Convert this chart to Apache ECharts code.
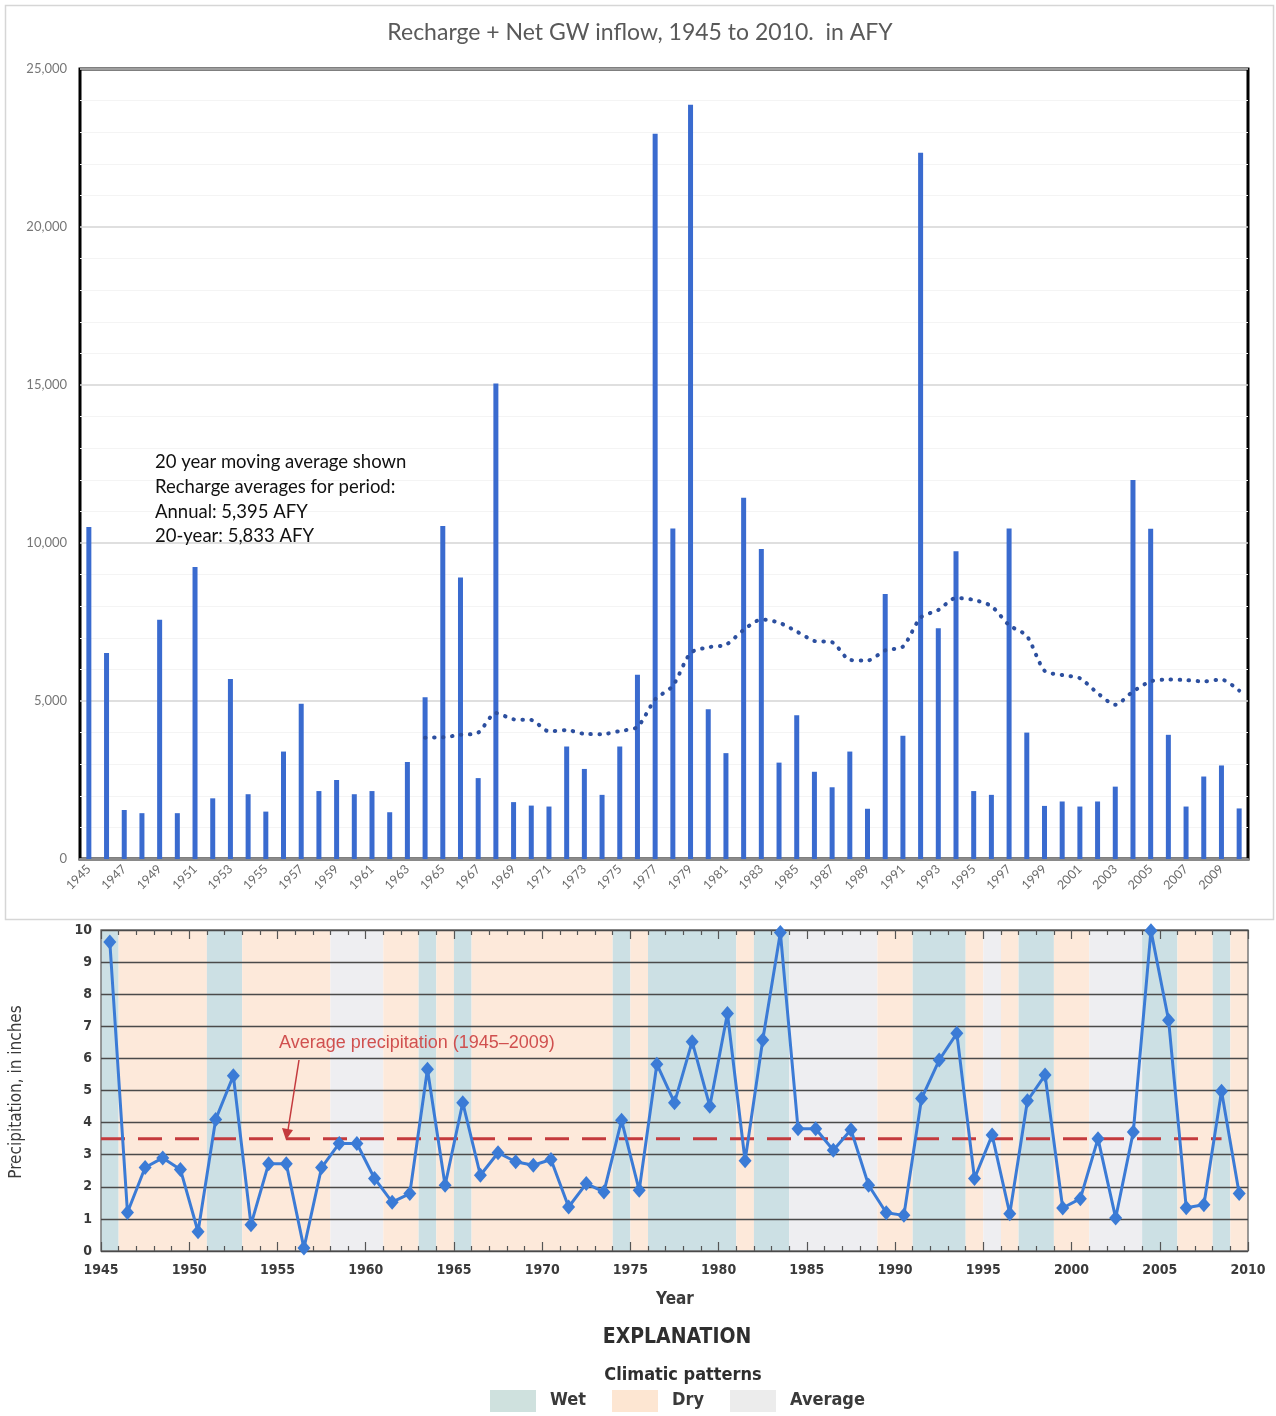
<!DOCTYPE html>
<html>
<head>
<meta charset="utf-8">
<script src="https://cdn.jsdelivr.net/npm/echarts@6.0.0/dist/echarts.min.js"></script>
<style>
  html, body { margin: 0; padding: 0; background: #ffffff; }
  #chart { width: 1276px; height: 1416px; }
</style>
</head>
<body>
<div id="chart"></div>
<script>
// ---- Recharge + net groundwater inflow (acre-feet per year) ----
const years = [
  '1945','1946','1947','1948','1949','1950','1951','1952','1953','1954',
  '1955','1956','1957','1958','1959','1960','1961','1962','1963','1964',
  '1965','1966','1967','1968','1969','1970','1971','1972','1973','1974',
  '1975','1976','1977','1978','1979','1980','1981','1982','1983','1984',
  '1985','1986','1987','1988','1989','1990','1991','1992','1993','1994',
  '1995','1996','1997','1998','1999','2000','2001','2002','2003','2004',
  '2005','2006','2007','2008','2009','2010'
];

const recharge = [
  10510, 6520, 1550, 1450, 7570, 1450, 9240, 1920, 5700, 2050,
  1500, 3400, 4910, 2150, 2500, 2050, 2150, 1480, 3070, 5120,
  10540, 8910, 2560, 15050, 1800, 1690, 1660, 3560, 2850, 2030,
  3560, 5830, 22950, 10460, 23870, 4740, 3350, 11430, 9810, 3050,
  4550, 2760, 2270, 3400, 1590, 8390, 3900, 22350, 7300, 9740,
  2150, 2030, 10460, 4000, 1680, 1820, 1660, 1820, 2290, 11990,
  10450, 3930, 1660, 2610, 2960, 1600
];

// 20-year moving average (first value plotted at 1964)
const movingAvg20 = [
  null, null, null, null, null, null, null, null, null, null,
  null, null, null, null, null, null, null, null, null, 3840,
  3850, 3930, 4000, 4620, 4420, 4400, 4040, 4080, 3960, 3950,
  4050, 4180, 5050, 5480, 6520, 6700, 6780, 7250, 7580, 7480,
  7200, 6900, 6860, 6300, 6280, 6600, 6720, 7640, 7880, 8260,
  8200, 8000, 7400, 7060, 5960, 5820, 5720, 5250, 4880, 5300,
  5620, 5680, 5660, 5620, 5680, 5330
];

const rechargeNotes = [
  '20 year moving average shown',
  'Recharge averages for period:',
  'Annual: 5,395 AFY',
  '20-year: 5,833 AFY'
];

// ---- Annual precipitation, in inches ----
const precipYears = [
  1945, 1946, 1947, 1948, 1949, 1950, 1951, 1952, 1953, 1954,
  1955, 1956, 1957, 1958, 1959, 1960, 1961, 1962, 1963, 1964,
  1965, 1966, 1967, 1968, 1969, 1970, 1971, 1972, 1973, 1974,
  1975, 1976, 1977, 1978, 1979, 1980, 1981, 1982, 1983, 1984,
  1985, 1986, 1987, 1988, 1989, 1990, 1991, 1992, 1993, 1994,
  1995, 1996, 1997, 1998, 1999, 2000, 2001, 2002, 2003, 2004,
  2005, 2006, 2007, 2008, 2009
];

const precipitation = [
  9.63, 1.20, 2.60, 2.90, 2.54, 0.60, 4.10, 5.46, 0.82, 2.72,
  2.72, 0.09, 2.60, 3.35, 3.35, 2.26, 1.52, 1.79, 5.66, 2.05,
  4.62, 2.36, 3.06, 2.78, 2.67, 2.85, 1.37, 2.10, 1.84, 4.07,
  1.89, 5.82, 4.62, 6.52, 4.51, 7.40, 2.81, 6.57, 9.92, 3.81,
  3.81, 3.14, 3.78, 2.05, 1.19, 1.11, 4.75, 5.95, 6.78, 2.26,
  3.61, 1.16, 4.68, 5.48, 1.34, 1.63, 3.50, 1.03, 3.71, 9.98,
  7.19, 1.35, 1.44, 4.98, 1.79
];

const avgPrecipitation = 3.5;          // 1945-2009 mean
const avgLineSpan = [1945, 2008.5];

// Climatic pattern periods: [start, end, pattern]
const climateBands = [
  [1945, 1946, 'Wet'], [1946, 1951, 'Dry'], [1951, 1953, 'Wet'],
  [1953, 1958, 'Dry'], [1958, 1961, 'Average'], [1961, 1963, 'Dry'],
  [1963, 1964, 'Wet'], [1964, 1965, 'Dry'], [1965, 1966, 'Wet'],
  [1966, 1974, 'Dry'], [1974, 1975, 'Wet'], [1975, 1976, 'Dry'],
  [1976, 1981, 'Wet'], [1981, 1982, 'Dry'], [1982, 1984, 'Wet'],
  [1984, 1989, 'Average'], [1989, 1991, 'Dry'], [1991, 1994, 'Wet'],
  [1994, 1995, 'Dry'], [1995, 1996, 'Average'], [1996, 1997, 'Dry'],
  [1997, 1999, 'Wet'], [1999, 2001, 'Dry'], [2001, 2004, 'Average'],
  [2004, 2006, 'Wet'], [2006, 2008, 'Dry'], [2008, 2009, 'Wet'],
  [2009, 2010, 'Dry']
];

const patternNames = ['Wet', 'Dry', 'Average'];
const bandColors = { Wet: '#cce0e4', Dry: '#fde9da', Average: '#eeeef1' };
const swatchColors = { Wet: '#cfe1de', Dry: '#fde6d2', Average: '#ececec' };

// ---- Styles ----
const sans = 'Lato, "Open Sans", "Liberation Sans", sans-serif';
const narrow = '"Liberation Sans Narrow", "DejaVu Sans Condensed", "Liberation Sans", sans-serif';

const chart = echarts.init(document.getElementById('chart'), null, { renderer: 'canvas' });

const precipData = precipYears.map((y, i) => [y + 0.5, precipitation[i]]);

// legend row for climatic patterns
const legendX = { Wet: 490, Dry: 612, Average: 730 };
const legendGraphics = [];
patternNames.forEach(name => {
  legendGraphics.push({
    type: 'rect', left: legendX[name], top: 1390, z: 100,
    shape: { width: 46, height: 22 },
    style: { fill: swatchColors[name] }, silent: true
  });
  legendGraphics.push({
    type: 'text', left: legendX[name] + 60, top: 1391, z: 100,
    style: { text: name, font: 'bold 18px ' + narrow, fill: '#3a3a3a' }, silent: true
  });
});

const option = {
  animation: false,
  backgroundColor: '#ffffff',
  grid: [
    {
      left: 80, top: 69, width: 1168, height: 790,
      show: true, borderColor: '#000000', borderWidth: 3,
      backgroundColor: 'transparent', containLabel: false, outerBoundsMode: 'none'
    },
    {
      left: 101, top: 930, width: 1147, height: 321,
      show: true, borderColor: '#7a7a7a', borderWidth: 1.5,
      backgroundColor: 'transparent', containLabel: false, outerBoundsMode: 'none'
    }
  ],
  xAxis: [
    {
      gridIndex: 0, type: 'category', data: years, boundaryGap: true,
      axisLine: { show: true, lineStyle: { color: '#8a8a8a', width: 3 } },
      axisTick: { show: false },
      axisLabel: {
        interval: 1, rotate: 45, margin: 8,
        fontFamily: sans, fontSize: 12.5, color: '#6a6a6a'
      },
      splitLine: { show: false }
    },
    {
      gridIndex: 1, type: 'value', min: 1945, max: 2010, interval: 5,
      position: 'bottom',
      axisLine: { show: false },
      axisTick: { show: true, inside: true, length: 9, lineStyle: { color: '#555', width: 1.2 } },
      minorTick: { show: true, splitNumber: 5, length: 5, lineStyle: { color: '#555', width: 1.2 } },
      axisLabel: {
        margin: 12, fontFamily: narrow, fontWeight: 'bold', fontSize: 14, color: '#3a3a3a',
        formatter: v => String(v)
      },
      splitLine: { show: false }
    },
    {
      gridIndex: 1, type: 'value', min: 1945, max: 2010, interval: 5,
      position: 'top',
      axisLine: { show: false },
      axisTick: { show: true, inside: true, length: 9, lineStyle: { color: '#555', width: 1.2 } },
      minorTick: { show: true, splitNumber: 5, length: 5, lineStyle: { color: '#555', width: 1.2 } },
      axisLabel: { show: false },
      splitLine: { show: false }
    }
  ],
  yAxis: [
    {
      gridIndex: 0, type: 'value', min: 0, max: 25000, interval: 5000,
      axisLine: { show: false }, axisTick: { show: false },
      axisLabel: {
        margin: 13, fontFamily: sans, fontSize: 13, color: '#777777',
        formatter: v => v.toLocaleString('en-US')
      },
      splitLine: { show: true, lineStyle: { color: '#d4d4d4', width: 1.5 } },
      minorTick: { show: false, splitNumber: 5 },
      minorSplitLine: { show: true, lineStyle: { color: '#f4f4f4', width: 1 } }
    },
    {
      gridIndex: 1, type: 'value', min: 0, max: 10, interval: 1,
      axisLine: { show: false }, axisTick: { show: false },
      axisLabel: {
        margin: 9, fontFamily: narrow, fontWeight: 'bold', fontSize: 14, color: '#3a3a3a'
      },
      splitLine: { show: true, lineStyle: { color: '#4a4a4a', width: 1.4 } }
    }
  ],
  series: [
    {
      name: 'Recharge + Net GW inflow', type: 'bar',
      xAxisIndex: 0, yAxisIndex: 0,
      data: recharge, barWidth: 5,
      itemStyle: { color: '#3a6bcf' }, z: 2
    },
    {
      name: '20 year moving average', type: 'line',
      xAxisIndex: 0, yAxisIndex: 0,
      data: movingAvg20, symbol: 'none', smooth: 0.25,
      lineStyle: { color: '#2c4f9f', width: 4, type: [0.5, 8.5], cap: 'round' },
      z: 3
    },
    {
      name: 'Climatic patterns', type: 'custom',
      xAxisIndex: 1, yAxisIndex: 1,
      data: climateBands.map(b => [b[0], b[1]]),
      encode: { x: [0, 1] },
      z: -1, silent: true,
      renderItem: (params, api) => {
        const a = api.coord([api.value(0), 10]);
        const b = api.coord([api.value(1), 0]);
        return {
          type: 'rect',
          shape: { x: a[0], y: a[1], width: b[0] - a[0], height: b[1] - a[1] },
          style: { fill: bandColors[climateBands[params.dataIndex][2]] }
        };
      }
    },
    {
      name: 'Average precipitation', type: 'line',
      xAxisIndex: 1, yAxisIndex: 1,
      data: avgLineSpan.map(x => [x, avgPrecipitation]),
      symbol: 'none',
      lineStyle: { color: '#c43a3d', width: 3, type: [24, 13] },
      z: 2
    },
    {
      name: 'Precipitation', type: 'line',
      xAxisIndex: 1, yAxisIndex: 1,
      data: precipData,
      symbol: 'diamond', symbolSize: [13, 15],
      lineStyle: { color: '#3b7bd6', width: 3 },
      itemStyle: { color: '#3b7bd6' },
      z: 4
    }
  ],
  graphic: [
    // frame around the recharge chart
    {
      type: 'rect', left: 3, top: 3,
      shape: { width: 1268, height: 914 },
      style: { fill: 'none', stroke: '#d6d6d6', lineWidth: 1.5 }, silent: true, z: -10
    },
    {
      type: 'text', x: 640, y: 33, z: 100,
      style: {
        text: 'Recharge + Net GW inflow, 1945 to 2010.  in AFY',
        font: '23px ' + sans, fill: '#595959', align: 'center', verticalAlign: 'middle'
      }, silent: true
    },
    {
      type: 'text', left: 155, top: 450, z: 100,
      style: {
        text: rechargeNotes.join('\n'),
        font: '18.5px ' + sans, fill: '#111111', lineHeight: 24.7
      }, silent: true
    },
    // precipitation chart captions
    {
      type: 'text', x: 17, y: 1092, rotation: Math.PI / 2, z: 100,
      style: {
        text: 'Precipitation, in inches', font: '17px ' + narrow, fill: '#3a3a3a',
        align: 'center', verticalAlign: 'middle'
      }, silent: true
    },
    {
      type: 'text', x: 279, y: 1043, z: 100,
      style: {
        text: 'Average precipitation (1945\u20132009)', font: '18px "Liberation Sans", sans-serif',
        fill: '#d0504f', align: 'left', verticalAlign: 'middle'
      }, silent: true
    },
    {
      type: 'line', z: 100,
      shape: { x1: 299, y1: 1060, x2: 288, y2: 1130 },
      style: { stroke: '#c43a3d', lineWidth: 1.5 }, silent: true
    },
    {
      type: 'polygon', z: 100,
      shape: { points: [[282, 1128], [293, 1130], [286, 1140]] },
      style: { fill: '#c43a3d' }, silent: true
    },
    {
      type: 'text', x: 675, y: 1300, z: 100,
      style: { text: 'Year', font: 'bold 17px ' + narrow, fill: '#3a3a3a', align: 'center', verticalAlign: 'middle' },
      silent: true
    },
    {
      type: 'text', x: 677, y: 1338, z: 100,
      style: { text: 'EXPLANATION', font: 'bold 21px ' + narrow, fill: '#2e2e2e', align: 'center', verticalAlign: 'middle' },
      silent: true
    },
    {
      type: 'text', x: 683, y: 1375, z: 100,
      style: { text: 'Climatic patterns', font: 'bold 18px ' + narrow, fill: '#2e2e2e', align: 'center', verticalAlign: 'middle' },
      silent: true
    }
  ].concat(legendGraphics)
};

chart.setOption(option);
</script>
</body>
</html>
